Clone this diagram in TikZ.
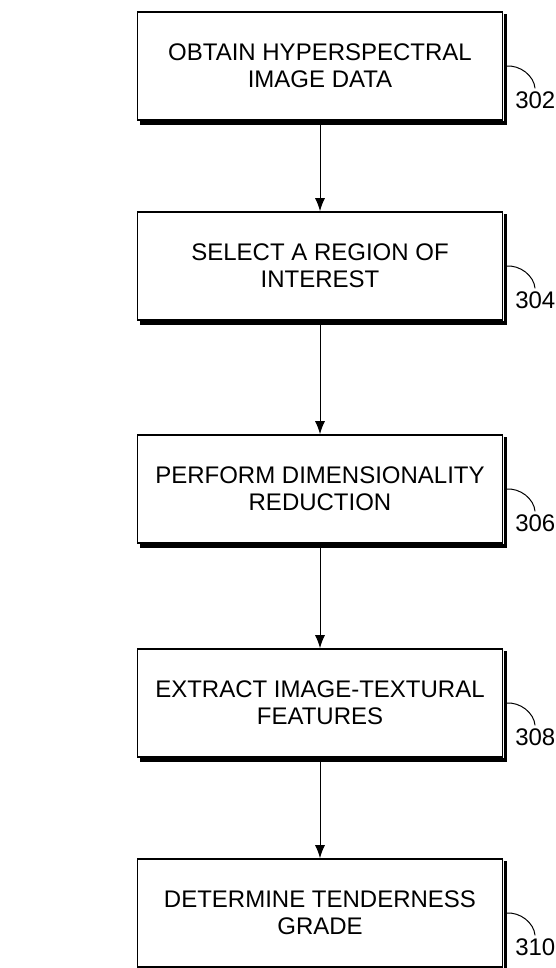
\documentclass[tikz,border=0pt]{standalone}
\usepackage{fontspec}
\setmainfont{Liberation Sans}
\usetikzlibrary{arrows.meta,positioning,calc}
\tikzset{
	>={Latex[length=13pt,width=10pt]},
	stepbox/.style={
			draw, line width=1.6pt,
			minimum width=365pt, minimum height=108pt,
			align=center, font=\fontsize{24}{27}\selectfont
		},
	refnum/.style={inner sep=0pt, font=\fontsize{24}{27}\selectfont},
	shade edge/.style={line width=3.5pt},
	lead/.style={line width=1pt, shorten >=3pt}
}

\begin{document}
\begin{tikzpicture}[x=1pt,y=-1pt]
	\useasboundingbox (0,0) rectangle (556,968);

	\node[stepbox] (b1) at (320,66) {OBTAIN HYPERSPECTRAL\\IMAGE DATA};
	\node[stepbox] (b2) at (320,266) {SELECT A REGION OF\\INTEREST};
	\node[stepbox] (b3) at (320,489) {PERFORM DIMENSIONALITY\\REDUCTION};
	\node[stepbox] (b4) at (320,703) {EXTRACT IMAGE-TEXTURAL\\FEATURES};
	\node[stepbox] (b5) at (320,913) {DETERMINE TENDERNESS\\GRADE};

	% heavy right and bottom edges
	\foreach \b in {b1,b2,b3,b4,b5}
		\draw[shade edge] ($(\b.north east)+(2,3)$) -- ($(\b.south east)+(2,2)$) -- ($(\b.south west)+(3,2)$);

	\draw[->, line width=1pt] (b1) -- (b2);
	\draw[->, line width=1pt] (b2) -- (b3);
	\draw[->, line width=1pt] (b3) -- (b4);
	\draw[->, line width=1pt] (b4) -- (b5);

	% reference numerals
	\foreach \b/\n in {b1/302,b2/304,b3/306,b4/308,b5/310} {
		\node[refnum] (n\n) at ($(\b.east)+(32,34)$) {\n};
		\draw[lead] ($(\b.east)+(2,0)$) to[out=5,in=95] (n\n.north);
	}
\end{tikzpicture}
\end{document}
